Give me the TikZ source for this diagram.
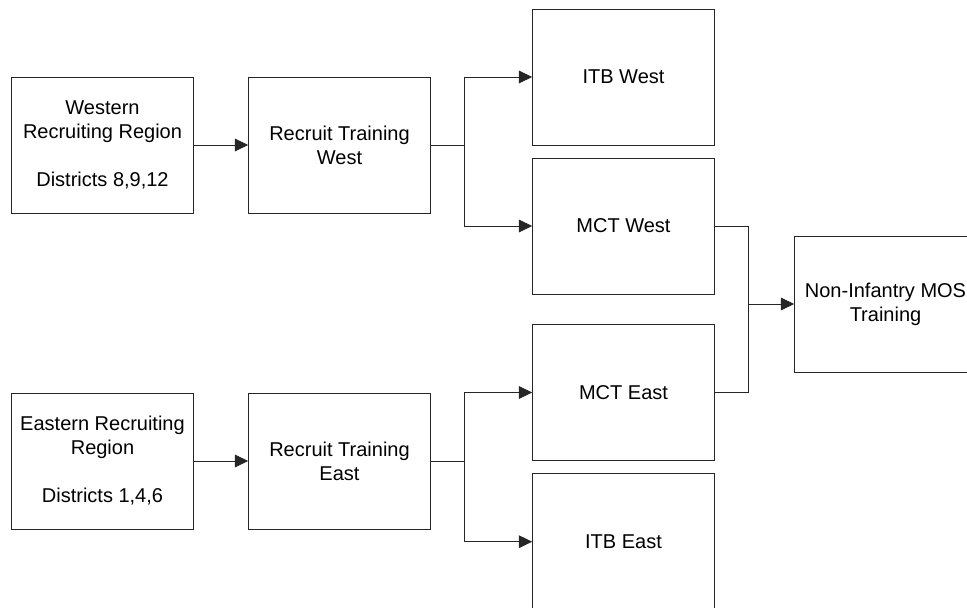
\documentclass[tikz,border=0pt]{standalone}
\usepackage{fontspec}
\setmainfont{Liberation Sans}
\usetikzlibrary{arrows.meta}

\tikzset{
  box/.style={draw=black!85, line width=0.75pt, rectangle, inner sep=0pt,
    minimum width=136.2pt, minimum height=102pt, align=center,
    font=\fontsize{15}{18}\selectfont},
  link/.style={draw=black!85, line width=0.75pt},
  arr/.style={link, -{Triangle[length=10pt, width=9.5pt]}}
}

\begin{document}
\begin{tikzpicture}[x=0.75pt, y=-0.75pt]
  \useasboundingbox (0,0) rectangle (967,607);

  % western pipeline
  \node[box] (wrr)  at (102.5,145) {Western\\Recruiting Region\\[18pt]Districts 8,9,12};
  \node[box] (rtw)  at (339.5,145) {Recruit Training\\West};
  \node[box] (itbw) at (623.5,77)  {ITB West};
  \node[box] (mctw) at (623.5,226) {MCT West};

  % eastern pipeline
  \node[box] (err)  at (102.5,461) {Eastern Recruiting\\Region\\[18pt]Districts 1,4,6};
  \node[box] (rte)  at (339.5,461) {Recruit Training\\East};
  \node[box] (mcte) at (623.5,392.5) {MCT East};
  \node[box] (itbe) at (623.5,541.7) {ITB East};

  % common follow-on training
  \node[box] (ninf) at (885.5,304) {Non-Infantry MOS\\Training};

  % junction points of the branching connectors
  \coordinate (jw) at (464,145);
  \coordinate (je) at (464,461);
  \coordinate (jm) at (748,304);

  \draw[arr] (wrr.east) -- (rtw.west);
  \draw[link] (rtw.east) -- (jw);
  \draw[arr] (jw) |- (itbw.west);
  \draw[arr] (jw) |- (mctw.west);

  \draw[arr] (err.east) -- (rte.west);
  \draw[link] (rte.east) -- (je);
  \draw[arr] (je) |- (mcte.west);
  \draw[arr] (je) |- (itbe.west);

  \draw[link] (mctw.east) -| (jm);
  \draw[link] (mcte.east) -| (jm);
  \draw[arr] (jm) -- (ninf.west);
\end{tikzpicture}
\end{document}
